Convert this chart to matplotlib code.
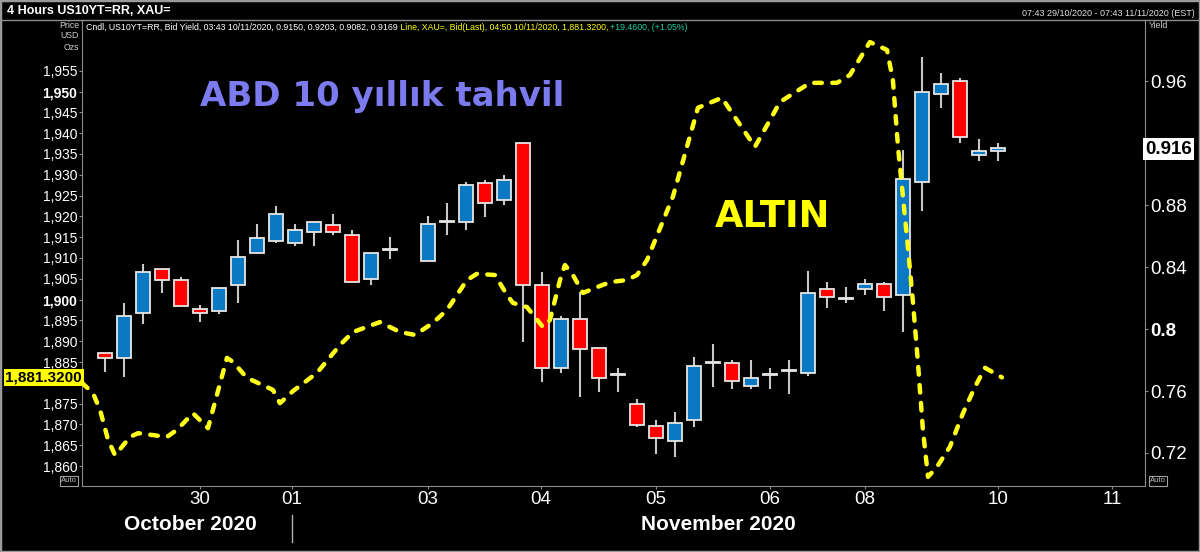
import matplotlib.pyplot as plt
from matplotlib.patches import Rectangle
from matplotlib.lines import Line2D

plt.rcParams['font.family'] = ['Liberation Sans', 'DejaVu Sans']

# US10YT=RR 4 saatlik mumlar (sira no, 16 bos)
slot = [0, 1, 2, 3, 4, 5, 6, 7, 8, 9, 10, 11, 12, 13, 14, 15,
        17, 18, 19, 20, 21, 22, 23, 24, 25, 26, 27, 28, 29, 30, 31, 32,
        33, 34, 35, 36, 37, 38, 39, 40, 41, 42, 43, 44, 45, 46, 47]
acilis = [0.7845, 0.7811, 0.8101, 0.8385, 0.8316, 0.8131, 0.8116, 0.8284,
          0.8488, 0.8570, 0.8557, 0.8624, 0.8671, 0.8606, 0.8321, 0.8510,
          0.8439, 0.8690, 0.8692, 0.8944, 0.8832, 0.9200, 0.8284, 0.7750,
          0.8065, 0.7879, 0.7702, 0.7514, 0.7376, 0.7277, 0.7413, 0.7783,
          0.7783, 0.7632, 0.7705, 0.7729, 0.7714, 0.8256, 0.8195, 0.8256,
          0.8288, 0.8219, 0.8950, 0.9514, 0.9600, 0.9121, 0.9150]
yuksek = [0.7845, 0.8166, 0.8419, 0.8385, 0.8334, 0.8153, 0.8266, 0.8574,
          0.8675, 0.8795, 0.8675, 0.8692, 0.8742, 0.8639, 0.8488, 0.8592,
          0.8729, 0.8811, 0.8950, 0.8961, 0.8994, 0.9200, 0.8370, 0.8086,
          0.8237, 0.7879, 0.7746, 0.7546, 0.7413, 0.7463, 0.7817, 0.7901,
          0.7800, 0.7800, 0.7750, 0.7800, 0.8374, 0.8305, 0.8273, 0.8320,
          0.8305, 0.9155, 0.9757, 0.9650, 0.9617, 0.9224, 0.9203]
dusuk = [0.7723, 0.7692, 0.8030, 0.8230, 0.8148, 0.8047, 0.8097, 0.8166,
         0.8488, 0.8553, 0.8537, 0.8537, 0.8606, 0.8301, 0.8284, 0.8452,
         0.8439, 0.8606, 0.8639, 0.8725, 0.8800, 0.7914, 0.7660, 0.7714,
         0.7563, 0.7595, 0.7595, 0.7366, 0.7194, 0.7176, 0.7366, 0.7628,
         0.7613, 0.7613, 0.7613, 0.7581, 0.7699, 0.8134, 0.8170, 0.8219,
         0.8118, 0.7983, 0.8763, 0.9428, 0.9202, 0.9086, 0.9082]
kapanis = [0.7813, 0.8084, 0.8366, 0.8318, 0.8148, 0.8101, 0.8266, 0.8466,
           0.8585, 0.8740, 0.8639, 0.8692, 0.8624, 0.8301, 0.8488, 0.8516,
           0.8675, 0.8694, 0.8929, 0.8811, 0.8961, 0.8284, 0.7750, 0.8065,
           0.7869, 0.7686, 0.7712, 0.7381, 0.7299, 0.7395, 0.7763, 0.7787,
           0.7666, 0.7682, 0.7712, 0.7733, 0.8234, 0.8205, 0.8202, 0.8288,
           0.8205, 0.8966, 0.9531, 0.9581, 0.9241, 0.9150, 0.9169]

# XAU= altin cizgisi
altin_x = [-1.21, -0.63, -0.26, 0.16, 0.53, 1.32, 1.74, 3.26, 3.79, 4.63,
           5.42, 5.68, 6.42, 6.74, 7.47, 8.84, 9.21, 9.89, 11.16, 12.37,
           13.05, 14.47, 15.53, 16.32, 17.26, 18.0, 19.05, 19.58, 20.53, 21.16,
           21.47, 22.21, 23.05, 23.42, 23.95, 24.21, 24.63, 25.16, 25.79, 26.58,
           27.47, 28.0, 28.53, 29.89, 31.21, 32.47, 34.21, 35.53, 37.11, 38.53,
           39.21, 40.26, 41.16, 41.47, 41.74, 42.0, 42.26, 42.53, 42.79, 43.05,
           43.32, 43.79, 44.47, 45.16, 45.79, 46.32, 47.21]
altin = [1880.0, 1877.5, 1873.5, 1866.3, 1862.6, 1867.0, 1867.9, 1867.0, 1868.7, 1872.7,
         1869.1, 1873.5, 1886.0, 1885.0, 1881.2, 1878.3, 1875.1, 1878.0, 1882.4, 1889.1,
         1892.2, 1894.6, 1892.2, 1891.5, 1894.4, 1897.5, 1904.7, 1906.2, 1905.9, 1901.1,
         1899.2, 1898.2, 1893.4, 1895.1, 1904.7, 1908.3, 1905.9, 1901.6, 1902.8, 1904.2,
         1904.7, 1905.9, 1909.5, 1924.7, 1946.1, 1948.5, 1936.7, 1947.5, 1952.1, 1952.1,
         1954.0, 1961.9, 1960.0, 1952.8, 1936.7, 1924.7, 1912.6, 1899.2, 1884.8, 1868.7,
         1857.4, 1859.8, 1864.6, 1872.7, 1879.0, 1883.6, 1881.3]

gun_yer = [5, 9.85, 17, 22.95, 29, 35, 40, 47, 53]
gun_etiket = ['30', '01', '03', '04', '05', '06', '08', '10', '11']
altin_tick = list(range(1860, 1956, 5))
getiri_tick = [0.72, 0.76, 0.80, 0.84, 0.88, 0.92, 0.96]
getiri_etiket = ['0.72', '0.76', '0.8', '0.84', '0.88', '', '0.96']

W, H = 1200, 552
gri = '#8c8c8c'

def fx(px):
    return px / W

def fy(py):
    return 1 - py / H

fig = plt.figure(figsize=(12, 5.52), dpi=100, facecolor='black')
rect = [fx(82), fy(486), fx(1145) - fx(82), fy(20) - fy(486)]

# getiri mumlari - sag eksen
ax = fig.add_axes(rect, facecolor='black')
ax.set_xlim(-1.21, 54.74)
ax.set_ylim(0.6987, 0.9994)
for i in range(len(slot)):
    o, c = acilis[i], kapanis[i]
    renk = '#0a78c2' if c >= o else '#ff0000'
    ax.vlines(slot[i], dusuk[i], yuksek[i], color='#c8c8c8', lw=1.5, zorder=2)
    ax.bar(slot[i], abs(c - o), bottom=min(o, c), width=0.7, color=renk,
           edgecolor='#e6e6e6', lw=1.3, zorder=3)

ax.yaxis.tick_right()
ax.set_yticks(getiri_tick)
ax.set_yticklabels(getiri_etiket)
ax.tick_params(axis='y', colors=gri, labelcolor='white', labelsize=13.5,
               length=2.5, pad=1.5)
for t in ax.get_yticklabels():
    if t.get_text() == '0.8':
        t.set_fontweight('bold')
ax.set_xticks(gun_yer)
ax.set_xticklabels(gun_etiket)
ax.tick_params(axis='x', colors=gri, labelcolor='white', labelsize=13.5,
               length=2.5, pad=1)
for s in ['left', 'right', 'bottom']:
    ax.spines[s].set_color(gri)
ax.spines['top'].set_visible(False)

ax.text(1.0, 0.916, '0.916', transform=ax.get_yaxis_transform(), ha='left',
        va='center', fontsize=13.5, fontweight='bold', color='black',
        bbox=dict(boxstyle='square,pad=0.12', fc='white', ec='none'),
        clip_on=False, zorder=10)

# altin cizgisi - sol eksen
axg = fig.add_axes(rect, facecolor='none')
axg.set_xlim(-1.21, 54.74)
axg.set_ylim(1855.2, 1967.2)
axg.plot(altin_x, altin, color='#ffff1a', lw=3.2, dashes=(1.7, 2.35),
         dash_capstyle='round', zorder=5)
axg.set_xticks([])
axg.set_yticks(altin_tick)
axg.set_yticklabels(['' if v == 1880 else '{:,}'.format(v) for v in altin_tick])
axg.tick_params(axis='y', colors=gri, labelcolor='white', labelsize=10,
                length=2.5, pad=1)
for t in axg.get_yticklabels():
    if t.get_text() in ('1,950', '1,900'):
        t.set_fontweight('bold')
for s in axg.spines.values():
    s.set_visible(False)

axg.text(0.0, 1881.32, '1,881.3200', transform=axg.get_yaxis_transform(),
         ha='right', va='center', fontsize=11, fontweight='bold', color='black',
         bbox=dict(boxstyle='square,pad=0.1', fc='#ffff00', ec='none'),
         clip_on=False, zorder=10)

# basliklar
fig.text(fx(7), fy(11), '4 Hours US10YT=RR, XAU=', fontsize=9, fontweight='bold',
         color='white', va='center')
fig.text(fx(1195), fy(13), '07:43 29/10/2020 - 07:43 11/11/2020 (EST)',
         fontsize=6.5, color='#e0e0e0', ha='right', va='center')
fig.text(fx(1149), fy(25), 'Yield', fontsize=6.3, color='#d0d0d0', va='center')
for txt, yy in [('Price', 25), ('USD', 36), ('Ozs', 48)]:
    fig.text(fx(79), fy(yy), txt, fontsize=6.3, color='#d0d0d0', ha='right', va='center')

t1 = fig.text(fx(86), fy(27),
              'Cndl, US10YT=RR, Bid Yield, 03:43 10/11/2020, 0.9150, 0.9203, 0.9082, 0.9169',
              fontsize=6.3, color='white', va='center')
t2 = ax.annotate(' Line, XAU=, Bid(Last), 04:50 10/11/2020, 1,881.3200, ', xy=(1, 0),
                 xycoords=t1, va='bottom', fontsize=6.3, color='#ffff00',
                 annotation_clip=False)
ax.annotate('+19.4600, (+1.05%)', xy=(1, 0), xycoords=t2, va='bottom', fontsize=6.3,
            color='#20d0a0', annotation_clip=False)

fig.text(fx(200), fy(106), 'ABD 10 yıllık tahvil', fontsize=24.5, fontweight='bold',
         family='DejaVu Sans', color='#7b7bef', va='baseline')
fig.text(fx(715), fy(227), 'ALTIN', fontsize=26.5, fontweight='bold',
         family='DejaVu Sans', color='#ffff00', va='baseline')

fig.text(fx(190), fy(524), 'October 2020', fontsize=15, fontweight='bold',
         color='white', ha='center', va='center')
fig.text(fx(718), fy(524), 'November 2020', fontsize=15, fontweight='bold',
         color='white', ha='center', va='center')

for xx, yy in [(69, 481), (1158, 481)]:
    fig.text(fx(xx), fy(yy), 'Auto', fontsize=5.5, color='#c0c0c0', ha='center',
             va='center', bbox=dict(boxstyle='square,pad=0.15', fc='black',
                                    ec='#a0a0a0', lw=0.8))

# cerceve cizgileri
fig.add_artist(Line2D([0, 1], [fy(20), fy(20)], color=gri, lw=1))
fig.add_artist(Line2D([fx(292), fx(292)], [fy(515), fy(542)], color='#b0b0b0', lw=1))
fig.add_artist(Rectangle((0, 0), 1, 1, transform=fig.transFigure, fill=False,
                         ec='#9a9a9a', lw=2.5))

fig.savefig('out.png', dpi=100, facecolor='black')
